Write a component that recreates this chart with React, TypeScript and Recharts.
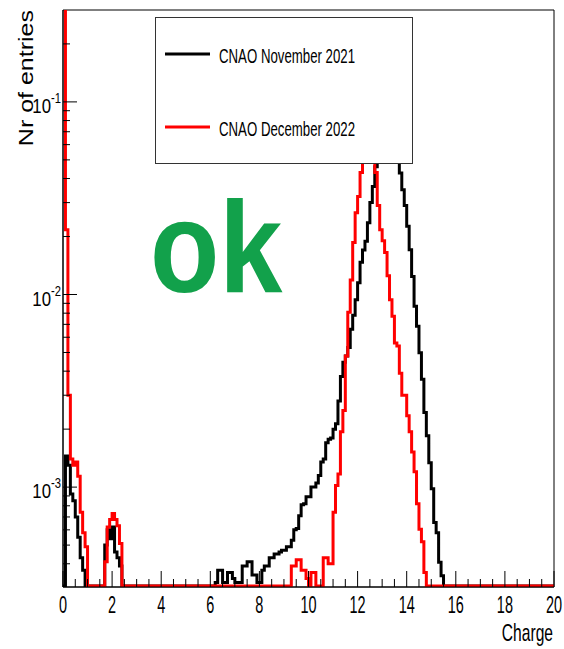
import React from 'react';
import { LineChart, Line, XAxis, YAxis, Legend, ReferenceArea } from 'recharts';

const FONT = '"Liberation Sans", Arial, Helvetica, sans-serif';

// histogram binning: 200 bins of 0.1 over charge 0..20
const CHARGE_MAX = 20;
const BIN_WIDTH = 0.1;

// visible range of the log axis
const Y_MIN = 3.03e-4;
const Y_MAX = 0.3;
// empty bins are drawn just on the bottom of the frame
const BASELINE = Y_MIN * 1.012;

const seriesNames = ['CNAO November 2021', 'CNAO December 2022'];
const seriesColors = ['#000000', '#ff0000'];

// normalised entries per bin, one row per unit of charge (0 = empty bin)
const nov2021 = [
  0, 1.45e-3, 1.3e-3, 9.2e-4, 8.5e-4, 7.0e-4, 5.5e-4, 4.3e-4, 3.7e-4, 0,
  0, 0, 0, 0, 0, 0, 0, 5.0e-4, 6.0e-4, 5.4e-4,
  6.2e-4, 4.6e-4, 4.3e-4, 3.9e-4, 0, 0, 0, 0, 0, 0,
  0, 0, 0, 0, 0, 0, 0, 0, 0, 0,
  0, 0, 0, 0, 0, 0, 0, 0, 0, 0,
  0, 0, 0, 0, 0, 0, 0, 0, 0, 0,
  0, 0, 3.2e-4, 3.7e-4, 3.7e-4, 3.2e-4, 3.2e-4, 3.6e-4, 3.6e-4, 3.35e-4,
  3.2e-4, 3.2e-4, 3.2e-4, 3.9e-4, 3.9e-4, 4.1e-4, 4.1e-4, 3.5e-4, 3.5e-4, 3.2e-4,
  3.2e-4, 3.7e-4, 3.9e-4, 3.9e-4, 4.3e-4, 4.3e-4, 4.5e-4, 4.5e-4, 4.6e-4, 4.7e-4,
  4.7e-4, 4.9e-4, 4.9e-4, 5.3e-4, 6.0e-4, 6.1e-4, 7.1e-4, 8.1e-4, 8.2e-4, 8.9e-4,
  8.9e-4, 1.0e-3, 1.0e-3, 1.05e-3, 1.15e-3, 1.35e-3, 1.4e-3, 1.7e-3, 1.77e-3, 1.8e-3,
  2.0e-3, 2.13e-3, 2.8e-3, 3.75e-3, 4.45e-3, 4.8e-3, 5.3e-3, 6.6e-3, 7.8e-3, 9.4e-3,
  1.15e-2, 1.47e-2, 1.7e-2, 1.89e-2, 2.36e-2, 3.0e-2, 3.64e-2, 4.6e-2, 5.2e-2, 5.8e-2,
  6.3e-2, 6.7e-2, 6.9e-2, 6.8e-2, 6.4e-2, 5.8e-2, 5.0e-2, 4.27e-2, 3.5e-2, 2.9e-2,
  2.26e-2, 1.71e-2, 1.24e-2, 8.7e-3, 6.85e-3, 4.99e-3, 3.63e-3, 2.44e-3, 1.85e-3, 1.34e-3,
  9.8e-4, 6.56e-4, 5.8e-4, 4.07e-4, 3.47e-4, 0, 0, 0, 0, 0,
  0, 0, 0, 0, 0, 0, 0, 0, 0, 0,
  0, 0, 0, 0, 0, 0, 0, 0, 0, 0,
  0, 0, 0, 0, 0, 0, 0, 0, 0, 0,
  0, 0, 0, 0, 0, 0, 0, 0, 0, 0,
];

const dec2022 = [
  0.45, 2.17e-2, 3.0e-3, 1.4e-3, 1.3e-3, 1.35e-3, 1.14e-3, 7.4e-4, 5.8e-4, 4.9e-4,
  0, 0, 0, 0, 0, 0, 0, 4.1e-4, 6.2e-4, 6.8e-4,
  7.3e-4, 6.8e-4, 6.3e-4, 5.1e-4, 0, 0, 0, 0, 0, 0,
  0, 0, 0, 0, 0, 0, 0, 0, 0, 0,
  0, 0, 0, 0, 0, 0, 0, 0, 0, 0,
  0, 0, 0, 0, 0, 0, 0, 0, 0, 0,
  0, 0, 0, 0, 0, 0, 0, 0, 0, 0,
  0, 0, 0, 0, 0, 0, 0, 0, 0, 0,
  0, 0, 0, 0, 0, 0, 0, 0, 0, 0,
  0, 0, 0, 3.9e-4, 3.9e-4, 4.2e-4, 4.2e-4, 3.7e-4, 3.7e-4, 3.35e-4,
  0, 3.6e-4, 3.6e-4, 0, 0, 0, 4.3e-4, 4.3e-4, 4.0e-4, 4.0e-4,
  7.4e-4, 1.02e-3, 1.17e-3, 1.94e-3, 2.5e-3, 4.8e-3, 8.1e-3, 1.19e-2, 1.86e-2, 2.66e-2,
  3.23e-2, 4.3e-2, 5.5e-2, 6.8e-2, 7.8e-2, 7.5e-2, 6.0e-2, 4.3e-2, 2.9e-2, 2.17e-2,
  1.9e-2, 1.65e-2, 1.25e-2, 9.4e-3, 7.7e-3, 5.6e-3, 5.4e-3, 3.9e-3, 3.0e-3, 3.0e-3,
  2.35e-3, 1.94e-3, 1.52e-3, 1.2e-3, 8.2e-4, 6.05e-4, 5.2e-4, 3.6e-4, 0, 0,
  0, 0, 0, 0, 0, 0, 0, 0, 0, 0,
  0, 0, 0, 0, 0, 0, 0, 0, 0, 0,
  0, 0, 0, 0, 0, 0, 0, 0, 0, 0,
  0, 0, 0, 0, 0, 0, 0, 0, 0, 0,
  0, 0, 0, 0, 0, 0, 0, 0, 0, 0,
];

// x ticks every 0.5, labelled every 2
const chargeTicks = Array.from({ length: 41 }, (_, i) => i * 0.5);
const entryTicks = [
  4e-4, 5e-4, 6e-4, 7e-4, 8e-4, 9e-4,
  1e-3, 2e-3, 3e-3, 4e-3, 5e-3, 6e-3, 7e-3, 8e-3, 9e-3,
  1e-2, 2e-2, 3e-2, 4e-2, 5e-2, 6e-2, 7e-2, 8e-2, 9e-2,
  1e-1, 2e-1,
];

const floorBin = (v: number) => (v > BASELINE ? v : BASELINE);

// one point per bin edge, drawn with stepAfter; last edge repeats the last bin
const histData = Array.from({ length: nov2021.length + 1 }, (_, i) => {
  const k = Math.min(i, nov2021.length - 1);
  return {
    charge: Math.round(i * BIN_WIDTH * 100) / 100,
    nov: floorBin(nov2021[k]),
    dec: floorBin(dec2022[k]),
  };
});

function ChargeTick({ x, y, payload }: any) {
  const v = payload.value;
  const major = Math.abs(v / 2 - Math.round(v / 2)) < 1e-6;
  return (
    <g>
      <line x1={x} x2={x} y1={y} y2={y - (major ? 16 : 8)} stroke="#000" strokeWidth={1} />
      {major && (
        <text
          transform={`translate(${x},${y + 26}) scale(0.63,1)`}
          textAnchor="middle"
          fontSize={23}
          fontFamily={FONT}
          fill="#000"
        >
          {v}
        </text>
      )}
    </g>
  );
}

function EntriesTick({ x, y, payload }: any) {
  const v = payload.value;
  const exp = Math.round(Math.log10(v));
  const major = Math.abs(Math.log10(v) - exp) < 1e-6;
  return (
    <g>
      <line x1={x} x2={x + (major ? 14 : 7)} y1={y} y2={y} stroke="#000" strokeWidth={1} />
      {major && (
        <text
          transform={`translate(${x - 2},${y + 11}) scale(0.8,1)`}
          textAnchor="end"
          fontSize={21}
          fontFamily={FONT}
          fill="#000"
        >
          10<tspan dy={-10} fontSize={14}>{exp}</tspan>
        </text>
      )}
    </g>
  );
}

function ChargeTitle(props: any) {
  const vb = props.viewBox || { x: 63, y: 587, width: 491, height: 62 };
  return (
    <text
      transform={`translate(${vb.x + vb.width - 1},${vb.y + 54}) scale(0.65,1)`}
      textAnchor="end"
      fontSize={24}
      fontFamily={FONT}
      fill="#000"
    >
      Charge
    </text>
  );
}

function EntriesTitle(props: any) {
  const vb = props.viewBox || { x: 0, y: 10, width: 63, height: 577 };
  return (
    <text
      transform={`translate(${vb.x + 33},${vb.y}) rotate(-90) scale(1,0.83)`}
      textAnchor="end"
      fontSize={25}
      fontFamily={FONT}
      fill="#000"
    >
      Nr of entries
    </text>
  );
}

function LegendBox() {
  const rows = [37, 110];
  return (
    <svg width={259} height={148} style={{ display: 'block' }}>
      <rect x={0.5} y={0.5} width={257} height={146} fill="#fff" stroke="#333" strokeWidth={1} />
      {seriesNames.map((name, i) => (
        <g key={name}>
          <line x1={10} x2={55} y1={rows[i]} y2={rows[i]} stroke={seriesColors[i]} strokeWidth={3} />
          <text
            transform={`translate(64,${rows[i] + 9}) scale(0.63,1)`}
            fontSize={21}
            fontFamily={FONT}
            fill="#000"
          >
            {name}
          </text>
        </g>
      ))}
    </svg>
  );
}

export default function App() {
  return (
    <div style={{ position: 'absolute', left: 0, top: 0, width: 564, height: 649, background: '#fff' }}>
      <LineChart
        width={564}
        height={649}
        data={histData}
        margin={{ top: 10, right: 10, bottom: 0, left: 0 }}
      >
        <XAxis
          dataKey="charge"
          type="number"
          domain={[0, CHARGE_MAX]}
          ticks={chargeTicks}
          interval={0}
          height={62}
          tickSize={0}
          tickMargin={0}
          tickLine={false}
          axisLine={{ stroke: '#000', strokeWidth: 1 }}
          tick={<ChargeTick />}
          label={<ChargeTitle />}
        />
        <YAxis
          scale="log"
          domain={[Y_MIN, Y_MAX]}
          allowDataOverflow
          ticks={entryTicks}
          interval={0}
          width={63}
          tickSize={0}
          tickMargin={0}
          tickLine={false}
          axisLine={{ stroke: '#000', strokeWidth: 1 }}
          tick={<EntriesTick />}
          label={<EntriesTitle />}
        />
        <Line
          type="stepAfter"
          dataKey="nov"
          name={seriesNames[0]}
          stroke={seriesColors[0]}
          strokeWidth={3}
          dot={false}
          isAnimationActive={false}
        />
        <Line
          type="stepAfter"
          dataKey="dec"
          name={seriesNames[1]}
          stroke={seriesColors[1]}
          strokeWidth={3}
          dot={false}
          isAnimationActive={false}
        />
        <ReferenceArea
          x1={0}
          x2={CHARGE_MAX}
          y1={Y_MIN}
          y2={Y_MAX}
          fill="none"
          fillOpacity={0}
          stroke="#000"
          strokeWidth={1}
          strokeOpacity={1}
        />
        <Legend
          layout="horizontal"
          verticalAlign="middle"
          align="center"
          width={259}
          height={148}
          wrapperStyle={{ left: 155, top: 17, width: 259, height: 148 }}
          content={<LegendBox />}
        />
      </LineChart>
      <svg
        width={564}
        height={649}
        style={{ position: 'absolute', left: 0, top: 0, pointerEvents: 'none' }}
      >
        <text
          transform="translate(150,292) scale(0.88,1)"
          fontSize={129}
          fontWeight="bold"
          fontFamily={FONT}
          fill="#12a14b"
        >
          ok
        </text>
      </svg>
    </div>
  );
}
